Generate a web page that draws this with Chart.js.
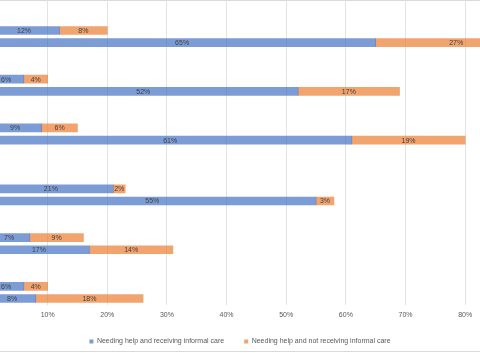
<!doctype html>
<html lang="en">
<head>
    <meta charset="utf-8">
    <title>Informal care</title>
    <script src="https://cdn.jsdelivr.net/npm/chart.js"></script>
    <style>
        html, body { margin: 0; padding: 0; background: #fff; overflow: hidden; }
        #frame {
            position: absolute; left: 0; top: 0; width: 480px; height: 350px;
            border-top: 1px solid #d9d9d9; border-bottom: 1px solid #d9d9d9;
            box-sizing: content-box;
        }
        #wrap { position: absolute; left: -32px; top: 0; width: 544px; height: 359px; }
    </style>
</head>
<body>
    <div id="frame"></div>
    <div id="wrap"><canvas id="chartEl"></canvas></div>
    <script>
        // rows top to bottom, blank strings are the empty rows of the sheet
        const rows = ['', '', '', '', '', '', '', '', '', '', '', '', '', '', '', '', '', '', '', '', '', '', '', '', ''];
        const barRows = [2, 3, 6, 7, 10, 11, 15, 16, 19, 20, 23, 24];
        const receiving = [12, 65, 6, 52, 9, 61, 21, 55, 7, 17, 6, 8];
        const notReceiving = [8, 27, 4, 17, 6, 19, 2, 3, 9, 14, 4, 18];
        const xTicks = [0, 10, 20, 30, 40, 50, 60, 70, 80];

        const fillRows = (values) => {
            const out = rows.map(() => null);
            barRows.forEach((r, i) => { out[r] = values[i]; });
            return out;
        };

        const FONT = 'Liberation Sans, Arial, sans-serif';

        // writes the value in the middle of each bar segment
        const segmentLabels = {
            id: 'segmentLabels',
            afterDatasetsDraw(chart) {
                const ctx = chart.ctx;
                ctx.save();
                ctx.font = `7px ${FONT}`;
                ctx.fillStyle = '#404040';
                ctx.textAlign = 'center';
                ctx.textBaseline = 'middle';
                chart.data.datasets.forEach((ds, i) => {
                    chart.getDatasetMeta(i).data.forEach((el, j) => {
                        const v = ds.data[j];
                        if (v === null) return;
                        ctx.fillText(v + '%', (el.x + el.base) / 2, el.y + 0.5);
                    });
                });
                ctx.restore();
            }
        };

        new Chart(document.getElementById('chartEl'), {
            type: 'bar',
            data: {
                labels: rows,
                datasets: [{
                    label: 'Needing help and receiving informal care',
                    data: fillRows(receiving),
                    backgroundColor: 'rgba(68, 114, 196, 0.7)',
                    borderWidth: 0,
                    barThickness: 8,
                }, {
                    label: 'Needing help and not receiving informal care',
                    data: fillRows(notReceiving),
                    backgroundColor: 'rgba(237, 125, 49, 0.7)',
                    borderWidth: 0,
                    barThickness: 8,
                }]
            },
            options: {
                indexAxis: 'y',
                responsive: true,
                maintainAspectRatio: false,
                animation: false,
                layout: { padding: { left: 20, right: 20, top: 0, bottom: 4 } },
                scales: {
                    x: {
                        stacked: true,
                        min: 0,
                        max: 84.5,
                        afterBuildTicks: (scale) => {
                            scale.ticks = xTicks.map((v) => ({ value: v }));
                        },
                        // pull the legend closer to the tick labels
                        afterFit: (scale) => {
                            scale.height -= 7;
                        },
                        grid: { color: '#e3e3e3', drawTicks: false },
                        border: { display: false },
                        ticks: {
                            padding: 6,
                            color: '#595959',
                            font: { family: FONT, size: 7 },
                            callback: (v) => v + '%',
                        },
                    },
                    y: {
                        stacked: true,
                        display: false,
                    },
                },
                plugins: {
                    legend: {
                        position: 'bottom',
                        labels: {
                            boxWidth: 4,
                            boxHeight: 4,
                            padding: 20,
                            color: '#595959',
                            font: { family: FONT, size: 7 },
                        },
                    },
                    tooltip: { enabled: false },
                },
            },
            plugins: [segmentLabels],
        });
    </script>
</body>
</html>
